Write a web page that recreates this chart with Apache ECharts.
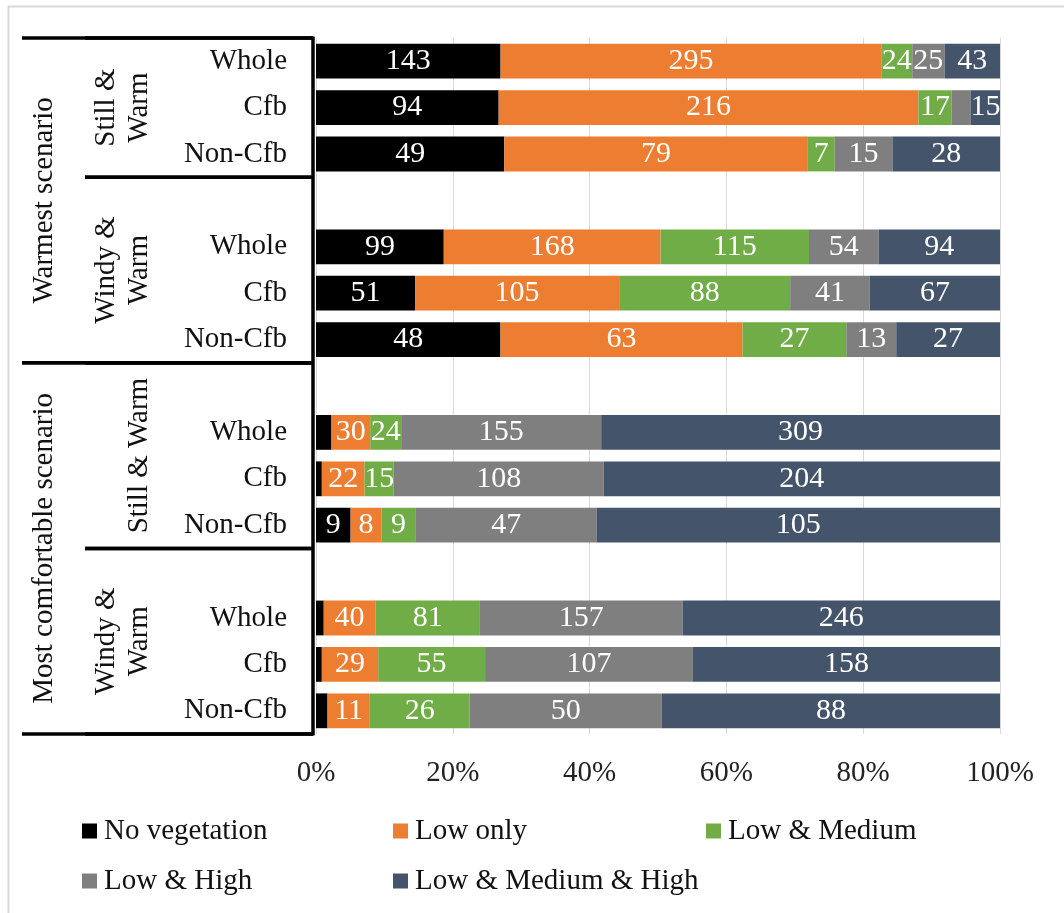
<!DOCTYPE html>
<html>
<head>
<meta charset="utf-8">
<script src="https://cdn.jsdelivr.net/npm/echarts@6/dist/echarts.min.js"></script>
<style>
  html, body { margin: 0; padding: 0; background: #fff; }
  #chart { width: 1064px; height: 913px; }
</style>
</head>
<body>
<div id="chart"></div>
<script>
// Rows from top to bottom; empty rows separate the condition groups
const rowLabels = ['Whole', 'Cfb', 'Non-Cfb', '', 'Whole', 'Cfb', 'Non-Cfb', '',
                   'Whole', 'Cfb', 'Non-Cfb', '', 'Whole', 'Cfb', 'Non-Cfb'];
const seriesNames = ['No vegetation', 'Low only', 'Low & Medium', 'Low & High', 'Low & Medium & High'];
const colors = ['#000000', '#ED7D31', '#70AD47', '#7F7F7F', '#44546A'];

// Counts per vegetation class
const noVegetation  = [143,  94,  49, null,  99,  51,  48, null,  12,   3,   9, null,   6,   3,  3];
const lowOnly       = [295, 216,  79, null, 168, 105,  63, null,  30,  22,   8, null,  40,  29, 11];
const lowMedium     = [ 24,  17,   7, null, 115,  88,  27, null,  24,  15,   9, null,  81,  55, 26];
const lowHigh       = [ 25,  10,  15, null,  54,  41,  13, null, 155, 108,  47, null, 157, 107, 50];
const lowMediumHigh = [ 43,  15,  28, null,  94,  67,  27, null, 309, 204, 105, null, 246, 158, 88];

const xTicks = [0, 20, 40, 60, 80, 100];

// Outer and inner groupings of the rows: [label, first row, last row]
const scenarios = [['Warmest scenario', 0, 6], ['Most comfortable scenario', 7, 14]];
const conditions = [['Still &\nWarm', 0, 2], ['Windy &\nWarm', 3, 6], ['Still & Warm', 7, 10], ['Windy &\nWarm', 11, 14]];

const FONT = 'Liberation Serif';
const counts = [noVegetation, lowOnly, lowMedium, lowHigh, lowMediumHigh];
const rowTotals = rowLabels.map((_, i) => counts.reduce((s, arr) => s + (arr[i] || 0), 0));

const series = counts.map((arr, k) => ({
  name: seriesNames[k],
  type: 'bar',
  stack: 'share',
  barCategoryGap: '25%',
  itemStyle: { color: colors[k] },
  label: {
    show: true,
    position: 'inside',
    color: '#ffffff',
    fontSize: 30,
    fontFamily: FONT,
    formatter: p => String(arr[p.dataIndex])
  },
  data: arr.map((v, i) => {
    if (v == null) return null;
    const share = v / rowTotals[i] * 100;
    return { value: share, label: { show: share >= 3 } };
  })
}));

const chart = echarts.init(document.getElementById('chart'));

const legendBase = {
  orient: 'vertical',
  icon: 'rect',
  itemWidth: 15,
  itemHeight: 15,
  itemGap: 20,
  selectedMode: false,
  textStyle: { fontSize: 29, fontFamily: FONT, color: '#111', lineHeight: 30, padding: [0, 0, 0, 2] }
};

chart.setOption({
  animation: false,
  textStyle: { fontFamily: FONT },
  grid: { left: 316, right: 64, top: 38, bottom: 179 },
  legend: [
    Object.assign({}, legendBase, { left: 77, top: 811, data: [seriesNames[0], seriesNames[3]] }),
    Object.assign({}, legendBase, { left: 388, top: 811, data: [seriesNames[1], seriesNames[4]] }),
    Object.assign({}, legendBase, { left: 701, top: 811, data: [seriesNames[2]] })
  ],
  xAxis: {
    type: 'value',
    min: xTicks[0],
    max: xTicks[xTicks.length - 1],
    interval: xTicks[1] - xTicks[0],
    axisLine: { show: false },
    axisTick: { show: false },
    splitLine: { show: true, lineStyle: { color: '#d9d9d9', width: 1 } },
    axisLabel: { formatter: '{value}%', fontSize: 29, fontFamily: FONT, color: '#222', margin: 25 }
  },
  yAxis: {
    type: 'category',
    inverse: true,
    data: rowLabels,
    axisLine: { show: false },
    axisTick: { show: false },
    axisLabel: { fontSize: 29, fontFamily: FONT, color: '#111', margin: 29 }
  },
  series: series
});

// Multi-level row header drawn against the category axis positions
function drawHeader() {
  const y0 = chart.convertToPixel({ yAxisIndex: 0 }, 0);
  const y1 = chart.convertToPixel({ yAxisIndex: 0 }, 1);
  const slot = y1 - y0;
  const rowTop = i => y0 + (i - 0.5) * slot;
  const xAxisLine = 313;
  const lineStyle = { stroke: '#000', lineWidth: 3.5 };
  const g = [];

  g.push({
    type: 'rect', silent: true, z: -1,
    shape: { x: 8.5, y: 6.5, width: 1200, height: 1200 },
    style: { fill: 'none', stroke: '#d9d9d9', lineWidth: 2 }
  });

  const yTop = rowTop(0);
  const yBottom = rowTop(rowLabels.length);
  g.push({ type: 'line', shape: { x1: xAxisLine, y1: yTop - 1.5, x2: xAxisLine, y2: yBottom + 1.5 }, style: lineStyle, z: 10 });

  conditions.forEach(([text, a, b]) => {
    const top = rowTop(a), bot = rowTop(b + 1);
    g.push({ type: 'line', shape: { x1: 85, y1: top, x2: xAxisLine, y2: top }, style: lineStyle, z: 10 });
    g.push({ type: 'line', shape: { x1: 85, y1: bot, x2: xAxisLine, y2: bot }, style: lineStyle, z: 10 });
    g.push({
      type: 'text', x: 156, y: (top + bot) / 2, rotation: Math.PI / 2,
      style: { text: text, fontSize: 29, fontFamily: FONT, fill: '#111', align: 'center', verticalAlign: 'bottom', lineHeight: 33 }
    });
  });

  scenarios.forEach(([text, a, b]) => {
    const top = rowTop(a), bot = rowTop(b + 1);
    g.push({ type: 'line', shape: { x1: 22, y1: top, x2: xAxisLine, y2: top }, style: lineStyle, z: 10 });
    g.push({ type: 'line', shape: { x1: 22, y1: bot, x2: xAxisLine, y2: bot }, style: lineStyle, z: 10 });
    g.push({
      type: 'text', x: 44, y: (top + bot) / 2, rotation: Math.PI / 2,
      style: { text: text, fontSize: 29, fontFamily: FONT, fill: '#111', align: 'center', verticalAlign: 'middle' }
    });
  });

  chart.setOption({ graphic: g });
}
drawHeader();
</script>
</body>
</html>
